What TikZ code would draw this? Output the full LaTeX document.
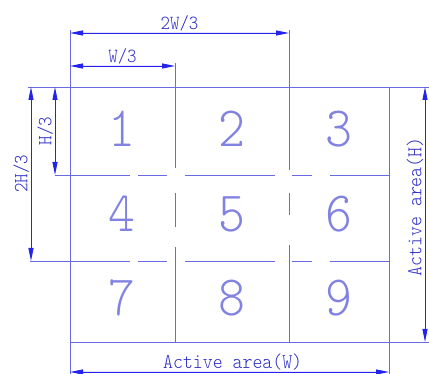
\documentclass[tikz,border=0pt]{standalone}
\usepackage{fontspec}
\usetikzlibrary{arrows.meta,calc}
\newfontfamily\cadfont[FakeStretch=0.9]{Latin Modern Mono Light}
\definecolor{gridc}{RGB}{105,105,225}
\definecolor{dimc}{RGB}{35,35,235}
\definecolor{txtc}{RGB}{45,45,200}
\definecolor{numc}{RGB}{130,130,225}

\begin{document}
\begin{tikzpicture}[
  x=1pt,y=-1pt,>={Triangle[length=13pt,width=5pt]},
  gridln/.style={draw=gridc,line width=0.9pt},
  dimln/.style={<->,draw=dimc,fill=dimc,line width=0.9pt},
  lbl/.style={font=\cadfont\fontsize{20}{20}\selectfont,text=txtc,inner sep=1.5pt},
  biglbl/.style={font=\cadfont\fontsize{21}{21}\selectfont,text=txtc,inner sep=1.5pt},
  cell/.style={font=\cadfont\fontsize{57}{57}\selectfont,text=numc,inner sep=0pt}
]
  \useasboundingbox (0,0) rectangle (429,374);

  % Active area corners and cut lines
  \coordinate (TL) at (70,87);
  \coordinate (TR) at (389,87);
  \coordinate (BL) at (70,342);
  \coordinate (BR) at (389,342);

  % Extension line ends
  \coordinate (topL) at (28,87);   \coordinate (topR) at (429,87);
  \coordinate (botR) at (429,342);
  \coordinate (lefT) at (70,30);   \coordinate (lefB) at (70,374);
  \coordinate (rigB) at (389,374);
  \coordinate (v1T) at (175,63);   \coordinate (v1B) at (175,342);
  \coordinate (v2T) at (289,30);   \coordinate (v2B) at (289,342);
  \coordinate (h1L) at (55,175);   \coordinate (h1R) at (389,175);
  \coordinate (h2L) at (30,261);   \coordinate (h2R) at (389,261);

  % Outline
  \draw[gridln] (topL) -- (topR);
  \draw[gridln] (BL) -- (botR);
  \draw[gridln] (lefT) -- (lefB);
  \draw[gridln] (TR) -- (rigB);

  % Inner split lines (centre-line style)
  \draw[gridln,dash pattern=on 105pt off 25pt on 34pt off 20pt on 95pt] (v1T) -- (v1B);
  \draw[gridln,dash pattern=on 140pt off 23pt on 22pt off 30pt on 97pt] (v2T) -- (v2B);
  \draw[gridln,dash pattern=on 75pt off 8pt on 29pt off 18pt on 90pt off 17pt on 20pt off 18pt on 59pt] (h1L) -- (h1R);
  \draw[gridln,dash pattern=on 100pt off 8pt on 29pt off 18pt on 90pt off 17pt on 20pt off 18pt on 59pt] (h2L) -- (h2R);

  % Dimension arrows
  \coordinate (dW2a) at (70,33);   \coordinate (dW2b) at (289,33);
  \coordinate (dW1a) at (70,66);   \coordinate (dW1b) at (175,66);
  \coordinate (dH1a) at (55,175);  \coordinate (dH1b) at (55,87);
  \coordinate (dH2a) at (31,261);  \coordinate (dH2b) at (31,87);
  \coordinate (dHa)  at (425,342); \coordinate (dHb)  at (425,87);
  \coordinate (dWa)  at (70,372);  \coordinate (dWb)  at (389,372);

  \draw[dimln] (dW2a) -- node[lbl,midway,anchor=south] (lW2) {2W/3} (dW2b);
  \draw[dimln] (dW1a) -- node[lbl,midway,anchor=south] (lW1) {W/3} (dW1b);
  \draw[dimln] (dH1a) -- node[lbl,midway,rotate=90,anchor=south] (lH1) {H/3} (dH1b);
  \draw[dimln] (dH2a) -- node[lbl,midway,rotate=90,anchor=south] (lH2) {2H/3} (dH2b);
  \draw[dimln] (dHa) -- node[biglbl,pos=0.53,rotate=90,anchor=south] (lH) {Active area(H)} (dHb);
  \draw[dimln] (dWa) -- node[biglbl,pos=0.51,anchor=south] (lW) {Active area(W)} (dWb);

  % Cell numbers
  \node[cell] (n1) at (122,129) {1};
  \node[cell] (n2) at (232,129) {2};
  \node[cell] (n3) at (339,129) {3};
  \node[cell] (n4) at (122,214) {4};
  \node[cell] (n5) at (232,214) {5};
  \node[cell] (n6) at (339,214) {6};
  \node[cell] (n7) at (122,298) {7};
  \node[cell] (n8) at (232,298) {8};
  \node[cell] (n9) at (339,298) {9};
\end{tikzpicture}
\end{document}
